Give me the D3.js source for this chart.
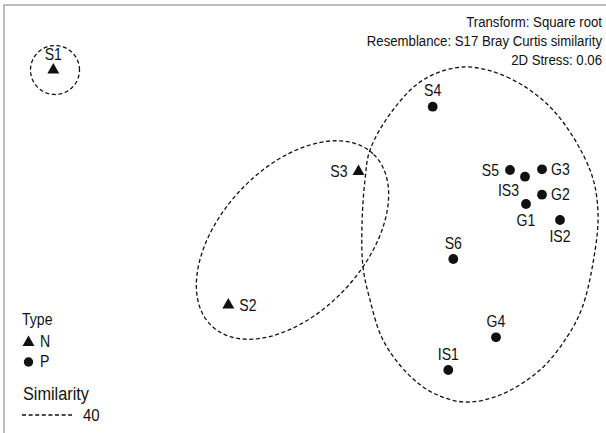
<!DOCTYPE html>
<html>
<head>
<meta charset="utf-8">
<script src="https://cdn.jsdelivr.net/npm/d3@7"></script>
<style>
  body { margin: 0; background: #fff; }
  text { font-family: "Liberation Sans", Arial, sans-serif; fill: #111; }
</style>
</head>
<body>
<div id="chart-area"></div>
<script>
// nMDS ordination coordinates (arbitrary units)
let samples = ['S1', 'S2', 'S3', 'S4', 'S5', 'IS3', 'G3', 'G2', 'G1', 'IS2', 'S6', 'G4', 'IS1']
let types   = ['N',  'N',  'N',  'P',  'P',  'P',   'P',  'P',  'P',  'P',   'P',  'P',  'P']
let mds1 = [-2.467, -0.717, 0.585, 1.327, 2.10, 2.25, 2.42, 2.42, 2.26, 2.60, 1.533, 1.96, 1.483]
let mds2 = [1.30, -1.05, 0.285, 0.933, 0.30, 0.233, 0.307, 0.053, -0.04, -0.20, -0.59, -1.373, -1.70]

// 40% similarity contours
let ringS1 = {cx: -2.45, cy: 1.30, a: 0.245, b: 0.245, angle: 0}
let ringS2S3 = {cx: -0.075, cy: -0.40, a: 1.18, b: 0.72, angle: 47}
let contourX = [1.63, 2.07, 2.53, 2.90, 2.98, 2.93, 2.82, 2.67, 2.40, 2.00, 1.65, 1.33, 1.07, 0.83, 0.70, 0.63, 0.62, 0.65, 0.70, 0.93, 1.23]
let contourY = [1.33, 1.23, 0.90, 0.30, -0.13, -0.63, -1.08, -1.37, -1.70, -1.95, -2.02, -1.93, -1.73, -1.40, -1.00, -0.67, -0.25, 0.20, 0.50, 0.90, 1.20]

let infoLines = ['Transform: Square root', 'Resemblance: S17 Bray Curtis similarity', '2D Stress: 0.06']
let similarityLevel = 40

// where each label sits relative to its point
let labelPlace = {S1: 'top', S2: 'right', S3: 'left', S4: 'top', S5: 'left', IS3: 'bottomleft',
  G3: 'right', G2: 'right', G1: 'bottom', IS2: 'bottom', S6: 'top', G4: 'top', IS1: 'top'}

let width = 606,
height = 433;

// the original figure is a bit stretched vertically, so text is squeezed sideways
let squeeze = 0.88

let svg = d3.select('#chart-area').append('svg')
  .attr('width', width)
  .attr('height', height)

let x = d3.scaleLinear().domain([-3, 3.06]).range([0, width])
let y = d3.scaleLinear().domain([2, -2.33]).range([0, height])

let putText = function(sel, px, py){
  sel.attr('transform', `translate(${px},${py}) scale(${squeeze},1)`)
}

// frame (top and left edges only)
svg.append('path')
  .attr('d', `M4,${height} V5 H${width}`)
  .attr('fill', 'none')
  .attr('stroke', '#a8a8a8')
  .attr('stroke-width', 1.5)

// contours
let dash = '4,2.6'
let ellipsePath = function(e){
  let t = e.angle * Math.PI / 180
  let pts = d3.range(0, 2 * Math.PI, Math.PI / 60).map(u => {
    let px = e.cx + e.a * Math.cos(u) * Math.cos(t) - e.b * Math.sin(u) * Math.sin(t)
    let py = e.cy + e.a * Math.cos(u) * Math.sin(t) + e.b * Math.sin(u) * Math.cos(t)
    return [x(px), y(py)]
  })
  return d3.line().curve(d3.curveLinearClosed)(pts)
}

svg.selectAll('.ring')
  .data([ringS1, ringS2S3])
  .enter().append('path')
  .attr('class', 'ring')
  .attr('d', ellipsePath)
  .attr('fill', 'none')
  .attr('stroke', '#111')
  .attr('stroke-width', 1.3)
  .attr('stroke-dasharray', dash)

let bigLine = d3.line()
  .x(d => x(d[0]))
  .y(d => y(d[1]))
  .curve(d3.curveCatmullRomClosed)

svg.append('path')
  .attr('d', bigLine(contourX.map((v, i) => [v, contourY[i]])))
  .attr('fill', 'none')
  .attr('stroke', '#111')
  .attr('stroke-width', 1.3)
  .attr('stroke-dasharray', dash)

// points
let data = samples.map((s, i) => ({name: s, type: types[i], x: mds1[i], y: mds2[i]}))
let tri = d3.symbol().type(d3.symbolTriangle).size(62)

svg.selectAll('.pt')
  .data(data)
  .enter().append(d => document.createElementNS('http://www.w3.org/2000/svg', d.type === 'N' ? 'path' : 'circle'))
  .attr('class', 'pt')
  .each(function(d){
    let el = d3.select(this)
    if(d.type === 'N'){
      el.attr('d', tri).attr('transform', `translate(${x(d.x)},${y(d.y)})`)
    }
    else{
      el.attr('cx', x(d.x)).attr('cy', y(d.y)).attr('r', 4.9)
    }
  })
  .attr('fill', '#111')

// labels
let off = {
  top: [0, -10.3, 'middle'],
  bottom: [0, 21.7, 'middle'],
  left: [-11, 5.7, 'end'],
  right: [9, 5.7, 'start'],
  bottomleft: [-6, 19, 'end']
}

svg.selectAll('.lab')
  .data(data)
  .enter().append('text')
  .attr('class', 'lab')
  .attr('text-anchor', d => off[labelPlace[d.name]][2])
  .style('font-size', '16px')
  .each(function(d){
    let o = off[labelPlace[d.name]]
    let extra = (d.type === 'N' && labelPlace[d.name] === 'right') ? 2 : 0
    putText(d3.select(this), x(d.x) + o[0] + extra, y(d.y) + o[1])
  })
  .text(d => d.name)

// info text top right
svg.selectAll('.info')
  .data(infoLines)
  .enter().append('text')
  .attr('class', 'info')
  .attr('text-anchor', 'end')
  .style('font-size', '15px')
  .each(function(d, i){ putText(d3.select(this), 602, 27 + i * 19) })
  .text(d => d)

// legend
let legend = svg.append('g')
legend.append('text').style('font-size', '16px').text('Type').call(putText, 22, 324.7)
legend.append('path').attr('d', tri).attr('transform', 'translate(28.5,342.5)').attr('fill', '#111')
legend.append('text').style('font-size', '16px').text('N').call(putText, 40, 347.4)
legend.append('circle').attr('cx', 28.5).attr('cy', 362).attr('r', 4.7).attr('fill', '#111')
legend.append('text').style('font-size', '16px').text('P').call(putText, 40, 367.4)
legend.append('text').style('font-size', '18.5px').text('Similarity').call(putText, 23, 400)
legend.append('line')
  .attr('x1', 22).attr('x2', 72).attr('y1', 415).attr('y2', 415)
  .attr('stroke', '#111').attr('stroke-width', 1.3).attr('stroke-dasharray', dash)
legend.append('text').style('font-size', '17px').text(similarityLevel).call(putText, 83, 421)
</script>
</body>
</html>
